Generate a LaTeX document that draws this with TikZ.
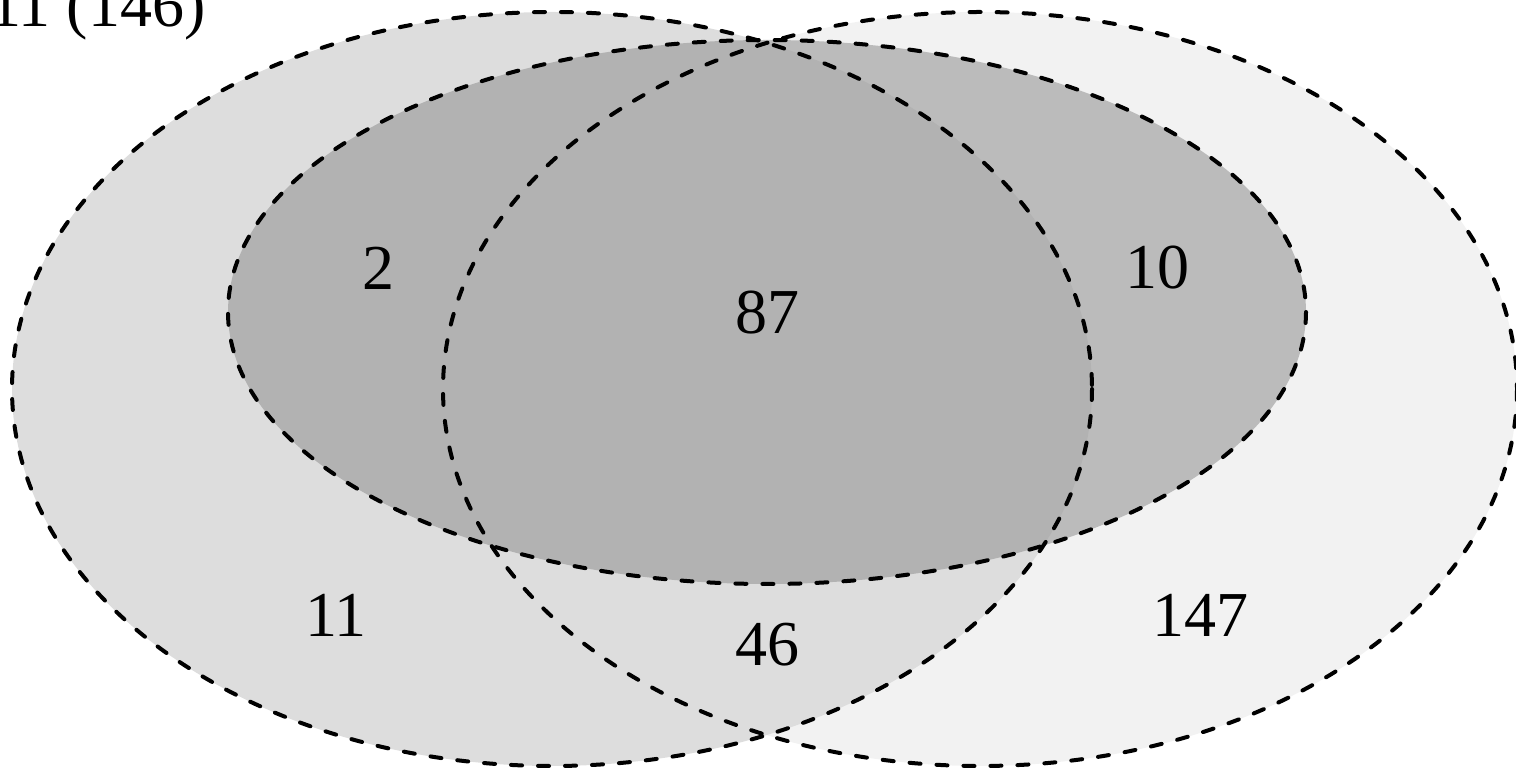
\documentclass[tikz,border=0pt]{standalone}
\usepackage{fontspec}
\setmainfont{Liberation Serif}
\usepackage{tikz}
\usepackage{xcolor}
\definecolor{leftgray}{gray}{0.867}
\definecolor{rightgray}{gray}{0.949}
\definecolor{midgray}{gray}{0.573}
\tikzset{
  setline/.style={line width=2pt, dash pattern=on 5.5pt off 8pt, line cap=round},
  count/.style={font=\fontsize{32}{38}\selectfont, inner sep=0pt}
}

\begin{document}
\begin{tikzpicture}[x=0.5pt, y=-0.5pt]
\useasboundingbox (0,0) rectangle (1516,769);
% fills
\fill [rightgray] (980,389) ellipse [x radius=537, y radius=377];
\fill [leftgray] (552,389) ellipse [x radius=540, y radius=377];
\fill [midgray, fill opacity=0.57] (767,312) ellipse [x radius=539, y radius=272];
% outlines
\draw [setline] (980,389) ellipse [x radius=537, y radius=377];
\draw [setline] (552,389) ellipse [x radius=540, y radius=377];
\draw [setline] (767,312) ellipse [x radius=539, y radius=272];
% counts
\node [count, anchor=base east] (title) at (206,27) {11 (146)};
\node [count] (onlytwo) at (378,268) {2};
\node [count] (allthree) at (767,313) {87};
\node [count] (midright) at (1157,268) {10};
\node [count] (onlyleft) at (336,615) {11};
\node [count] (leftright) at (767,645) {46};
\node [count] (onlyright) at (1200,615) {147};
\end{tikzpicture}
\end{document}
